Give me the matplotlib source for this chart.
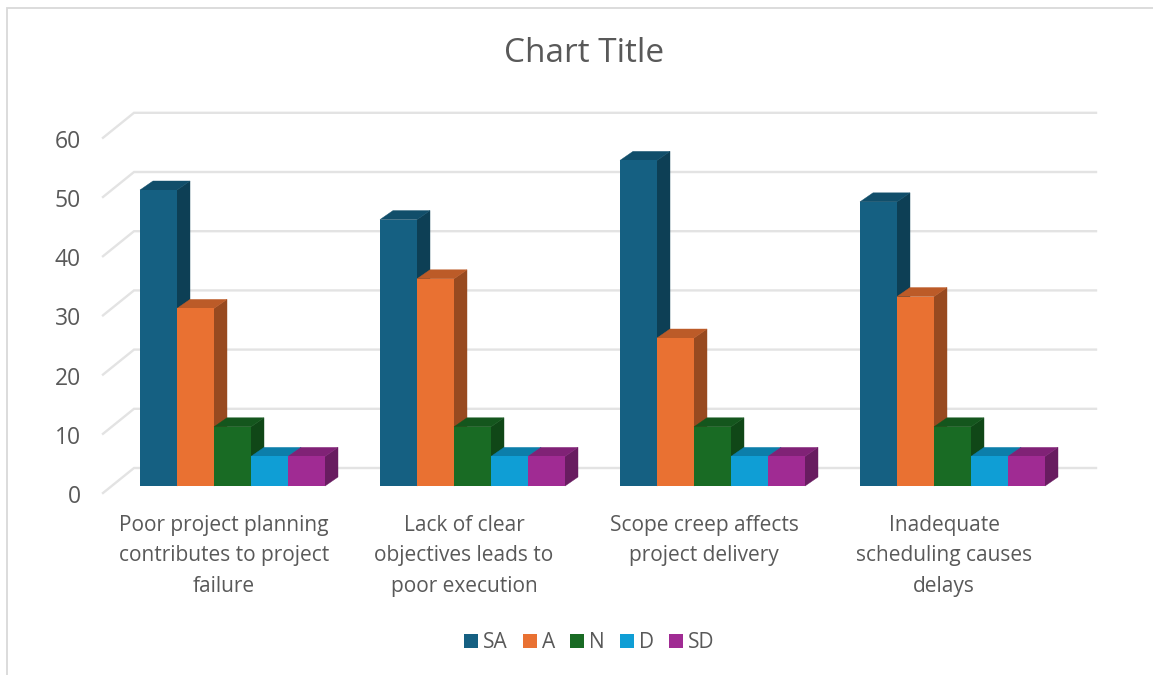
import matplotlib
matplotlib.use('Agg')
import matplotlib.pyplot as plt
from matplotlib.patches import Polygon, Rectangle

categories = ['Poor project planning\ncontributes to project\nfailure',
              'Lack of clear\nobjectives leads to\npoor execution',
              'Scope creep affects\nproject delivery',
              'Inadequate\nscheduling causes\ndelays']
series_names = ['SA', 'A', 'N', 'D', 'SD']
sa = [50, 45, 55, 48]
a = [30, 35, 25, 32]
n = [10, 10, 10, 10]
d = [5, 5, 5, 5]
sd = [5, 5, 5, 5]
yticks = [0, 10, 20, 30, 40, 50, 60]

front = ['#156082', '#E97132', '#196B24', '#0F9ED5', '#A02B93']
side = ['#0D3F55', '#984A20', '#104717', '#0A678B', '#681C60']
top = ['#114E6A', '#BC5B28', '#14561D', '#0C7EAA', '#802276']
grid_col = '#E3E3E3'
text_col = '#595959'

W, H = 1153, 675
plt.rcParams['font.family'] = ['Open Sans', 'DejaVu Sans']
fig = plt.figure(figsize=(W / 100, H / 100), dpi=100)
ax = fig.add_axes([0, 0, 1, 1])

# one x unit is one category, one y unit is one percent
pitch = 240.0
unit = 5.92
x0, y0 = 140.0, 486.0
ax.set_xlim(-x0 / pitch, (W - x0) / pitch)
ax.set_ylim((y0 - H) / unit, y0 / unit)
ax.axis('off')


def px_x(p):
    return p / pitch


def px_y(p):
    return p / unit


bar_w = px_x(37)
depth_x = px_x(13)
depth_y = px_y(9)

# back wall lines and the slanted floor/side lines
left_front = px_x(103 - x0)
left_wall = px_x(134 - x0)
right_wall = px_x(1096 - x0)
front_off = px_y(-7)
wall_off = px_y(18)
for v in yticks:
    ax.plot([left_front, left_wall, right_wall],
            [v + front_off, v + wall_off, v + wall_off],
            color=grid_col, lw=1.7, solid_joinstyle='miter', zorder=1)
    ax.text(px_x(81 - x0), v + px_y(-11), str(v), ha='right', va='center',
            fontsize=16.5, color=text_col)

# bars drawn left to right so each front face covers its neighbour's side
all_series = [sa, a, n, d, sd]
z = 2
for g in range(len(categories)):
    for s, vals in enumerate(all_series):
        v = vals[g]
        left = g + s * bar_w
        right = left + bar_w
        ax.add_patch(Polygon([(right, 0), (right + depth_x, depth_y),
                              (right + depth_x, v + depth_y), (right, v)],
                             closed=True, fc=side[s], ec=side[s], lw=0.3, zorder=z))
        ax.add_patch(Polygon([(left, v), (left + depth_x, v + depth_y),
                              (right + depth_x, v + depth_y), (right, v)],
                             closed=True, fc=top[s], ec=top[s], lw=0.3, zorder=z))
        ax.bar(left, v, width=bar_w, align='edge', color=front[s], lw=0, zorder=z + 0.5)
        z += 1

for g, label in enumerate(categories):
    ax.text(g + px_x(84), px_y(-29), label, ha='center', va='top', fontsize=15,
            color=text_col, linespacing=1.58)

ax.text(px_x(584 - x0), px_y(486 - 53), 'Chart Title', ha='center', va='center',
        fontsize=24, color=text_col)

# legend row
leg_x = [464, 523, 570, 620, 669]
for name, c, lx in zip(series_names, front, leg_x):
    ax.add_patch(Rectangle((px_x(lx - x0), px_y(486 - 648)), px_x(14), px_y(14),
                           fc=c, ec='none'))
    ax.text(px_x(lx + 19 - x0), px_y(486 - 642), name, ha='left', va='center',
            fontsize=15, color=text_col)

# chart frame, cropped on the right and bottom
ax.plot([px_x(7 - x0), px_x(7 - x0), px_x(W - x0)],
        [px_y(486 - H), px_y(486 - 8), px_y(486 - 8)],
        color='#D9D9D9', lw=1.3, solid_joinstyle='miter')

fig.savefig('out.png', dpi=100, facecolor='white')
